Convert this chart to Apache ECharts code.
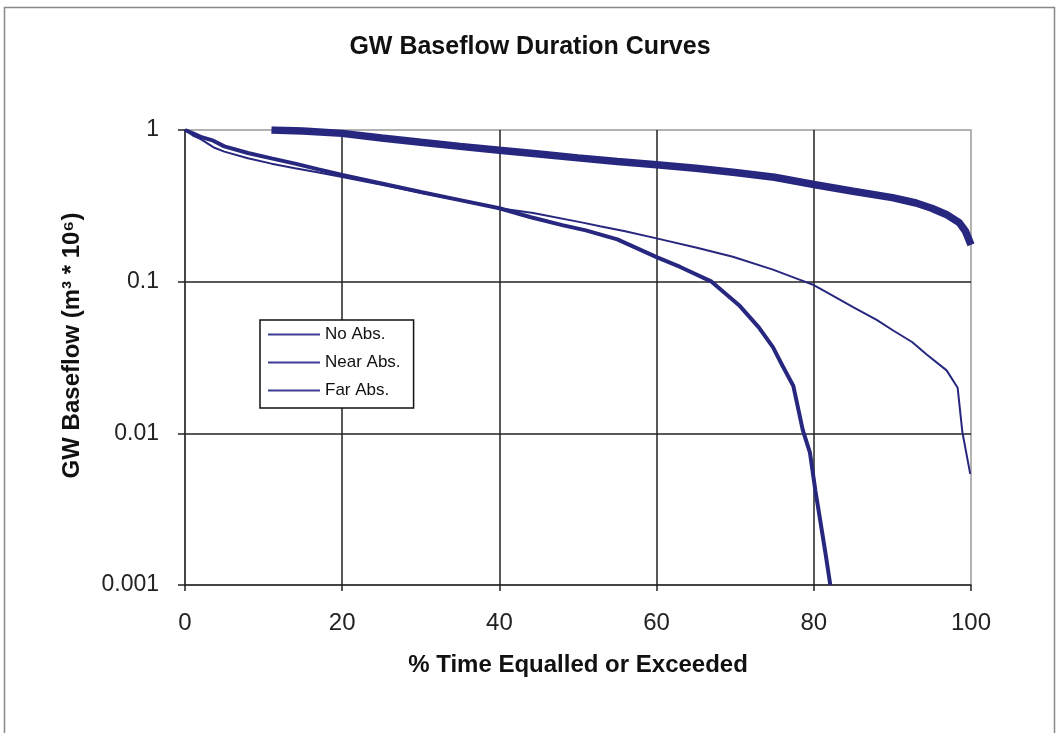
<!DOCTYPE html>
<html>
<head>
<meta charset="utf-8">
<script src="https://cdn.jsdelivr.net/npm/echarts@6/dist/echarts.min.js"></script>
<style>
html,body{margin:0;padding:0;background:#fff;}
#chart{width:1060px;height:733px;}
</style>
</head>
<body>
<div id="chart"></div>
<script>
const seriesNames = ['No Abs.', 'Near Abs.', 'Far Abs.'];
const xTickValues = [0, 20, 40, 60, 80, 100];
const yTickLabels = ['0.001', '0.01', '0.1', '1'];

const noAbsX = [11, 15, 20, 25, 30, 35, 40, 45, 50, 55, 60, 65, 70, 75, 80, 85, 90, 93, 95, 97, 98.5, 99.3, 100];
const noAbsY = [1.0, 0.985, 0.95, 0.885, 0.83, 0.78, 0.735, 0.695, 0.655, 0.62, 0.59, 0.56, 0.525, 0.488, 0.437, 0.395, 0.358, 0.33, 0.305, 0.275, 0.245, 0.215, 0.175];

const nearAbsX = [0, 1, 2, 3.6, 5, 8, 11, 14, 17, 20, 25, 30, 35, 40, 44, 48, 51, 55, 60, 63, 67, 70.6, 73, 74.8, 76, 77.4, 78.6, 79.5, 80.2, 80.8, 81.5, 82.1];
const nearAbsY = [1.0, 0.95, 0.9, 0.85, 0.78, 0.705, 0.65, 0.6, 0.55, 0.505, 0.445, 0.39, 0.345, 0.305, 0.266, 0.236, 0.218, 0.19, 0.145, 0.125, 0.1, 0.069, 0.05, 0.037, 0.028, 0.0205, 0.0105, 0.0075, 0.0042, 0.0027, 0.0016, 0.001];

const farAbsX = [0, 1, 2, 3.6, 5, 8, 11, 14, 17, 20, 25, 30, 35, 40, 44.3, 50.6, 52.8, 56, 60, 65, 69.7, 74.8, 78, 80, 82, 85, 88, 90, 92.5, 94.4, 96.9, 98.3, 98.9, 99.9];
const farAbsY = [1.0, 0.92, 0.87, 0.77, 0.72, 0.652, 0.6, 0.56, 0.525, 0.49, 0.435, 0.385, 0.343, 0.305, 0.284, 0.245, 0.232, 0.215, 0.193, 0.168, 0.146, 0.12, 0.104, 0.095, 0.083, 0.068, 0.056, 0.048, 0.04, 0.033, 0.026, 0.02, 0.0102, 0.0054];

const pairs = (xs, ys) => xs.map((x, i) => [x, ys[i]]);
const lineColor = '#27277f';

const chart = echarts.init(document.getElementById('chart'), null, {renderer: 'canvas'});
chart.setOption({
  backgroundColor: '#fff',
  animation: false,
  graphic: [{
    type: 'rect',
    shape: {x: 4.5, y: 7.5, width: 1050, height: 740},
    style: {fill: 'none', stroke: '#888', lineWidth: 1.5},
    silent: true,
    z: -10
  }],
  title: {
    text: 'GW Baseflow Duration Curves',
    left: 'center',
    top: 30,
    textStyle: {fontFamily: 'Liberation Sans Narrow, Liberation Sans, Arial', fontWeight: 'bold', fontSize: 25, color: '#111'}
  },
  legend: {
    orient: 'vertical',
    left: 260,
    top: 320,
    data: seriesNames,
    icon: 'rect',
    itemWidth: 52,
    itemHeight: 2,
    itemGap: 11,
    padding: [6, 13, 9, 8],
    borderColor: '#111',
    borderWidth: 1.5,
    backgroundColor: '#fff',
    itemStyle: {color: '#3d3d95'},
    textStyle: {fontFamily: 'Liberation Sans, Arial', fontSize: 17, color: '#111', lineHeight: 17, padding: [0, 0, 0, 0]}
  },
  grid: {
    left: 185, right: 89, top: 130, bottom: 148,
    show: true, borderColor: '#999', borderWidth: 1.5, backgroundColor: '#fff'
  },
  xAxis: {
    type: 'value',
    min: 0, max: 100, interval: 20,
    name: '% Time Equalled or Exceeded',
    nameLocation: 'middle',
    nameGap: 68,
    nameTextStyle: {fontFamily: 'Liberation Sans Narrow, Liberation Sans, Arial', fontWeight: 'bold', fontSize: 24, color: '#111'},
    axisLine: {show: true, lineStyle: {color: '#222', width: 1.5}},
    axisTick: {show: true, inside: false, length: 6, lineStyle: {color: '#222', width: 1.5}},
    axisLabel: {
      margin: 26,
      fontFamily: 'Liberation Sans Narrow, Liberation Sans, Arial', fontSize: 24, color: '#222',
      formatter: v => xTickValues.includes(v) ? String(v) : ''
    },
    splitLine: {show: true, showMinLine: false, showMaxLine: false, lineStyle: {color: '#222', width: 1.5}}
  },
  yAxis: {
    type: 'log',
    logBase: 10,
    min: 0.001, max: 1,
    name: 'GW Baseflow (m³ * 10⁶)',
    nameLocation: 'middle',
    nameGap: 101,
    nameTextStyle: {fontFamily: 'Liberation Sans, Arial', fontWeight: 'bold', fontSize: 24, color: '#111', padding: [0, 0, 0, 24]},
    axisLine: {show: true, lineStyle: {color: '#222', width: 1.5}},
    axisTick: {show: true, inside: false, length: 7, lineStyle: {color: '#222', width: 1.5}},
    axisLabel: {
      margin: 26,
      fontFamily: 'Liberation Sans, Arial', fontSize: 23, color: '#222',
      formatter: v => yTickLabels[Math.round(Math.log10(v)) + 3]
    },
    minorTick: {show: false},
    minorSplitLine: {show: false},
    splitLine: {show: true, showMinLine: false, showMaxLine: false, lineStyle: {color: '#222', width: 1.5}}
  },
  series: [
    {name: seriesNames[0], type: 'line', data: pairs(noAbsX, noAbsY), showSymbol: false, symbol: 'none', clip: true,
     color: lineColor, lineStyle: {color: lineColor, width: 7.5}},
    {name: seriesNames[1], type: 'line', data: pairs(nearAbsX, nearAbsY), showSymbol: false, symbol: 'none', clip: true,
     color: lineColor, lineStyle: {color: lineColor, width: 4}},
    {name: seriesNames[2], type: 'line', data: pairs(farAbsX, farAbsY), showSymbol: false, symbol: 'none', clip: true,
     color: lineColor, lineStyle: {color: lineColor, width: 2}}
  ]
});
</script>
</body>
</html>
